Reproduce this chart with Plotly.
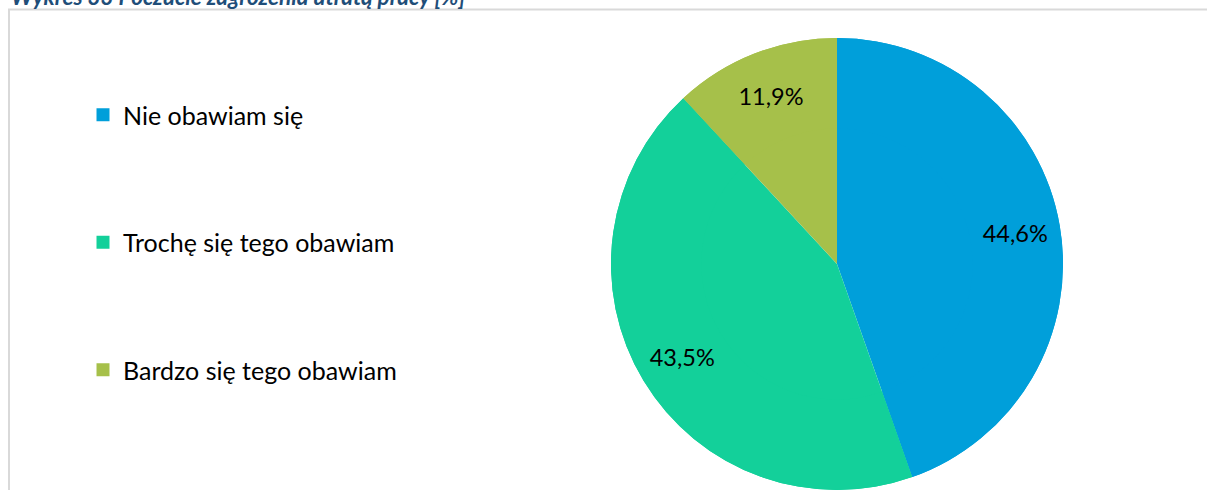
import plotly.graph_objects as go

labels = ["Nie obawiam się", "Trochę się tego obawiam", "Bardzo się tego obawiam"]
values = [44.6, 43.5, 11.9]
text_labels = ["44,6%", "43,5%", "11,9%"]
colors = ["#009FDA", "#13D09A", "#A6C04A"]
title_text = "Wykres 33 Poczucie zagrożenia utratą pracy [%]"

W, H = 1207, 490
FONT = "Lato"
pie_domain = dict(x=[610 / W, 1064 / W], y=[0, 1 - 38 / H])

fig = go.Figure()
# full pie (fills the centre)
fig.add_trace(go.Pie(
    labels=labels, values=values,
    textinfo="none", sort=False, direction="clockwise", rotation=0,
    marker=dict(colors=colors, line=dict(width=0)),
    domain=pie_domain, showlegend=False, hoverinfo="skip",
))
# same pie as a ring on top, so the inside labels sit out towards the rim
fig.add_trace(go.Pie(
    labels=labels, values=values, text=text_labels, hole=0.6,
    textinfo="text", textposition="inside", insidetextorientation="horizontal",
    sort=False, direction="clockwise", rotation=0,
    marker=dict(colors=colors, line=dict(width=0)),
    textfont=dict(family=FONT, size=23.5, color="#000000"),
    domain=pie_domain, showlegend=False,
))

for lab, col in zip(labels, colors):
    fig.add_trace(go.Scatter(
        x=[None], y=[None], mode="markers", name=lab, legendgroup=lab,
        marker=dict(symbol="square", size=13, color=col),
    ))

fig.update_layout(
    width=W, height=H,
    margin=dict(l=0, r=0, t=0, b=0),
    paper_bgcolor="white", plot_bgcolor="white",
    xaxis=dict(visible=False), yaxis=dict(visible=False),
    legend=dict(
        x=83 / W, xanchor="left", y=1 - 92 / H, yanchor="top",
        font=dict(family=FONT, size=25, color="#000000"),
        tracegroupgap=92, bgcolor="rgba(0,0,0,0)",
    ),
    shapes=[dict(
        type="rect", xref="paper", yref="paper",
        x0=9 / W, x1=1.02, y0=-0.02, y1=1 - 9.5 / H,
        line=dict(color="#D9D9D9", width=2), layer="below",
    )],
    annotations=[dict(
        text=title_text, xref="paper", yref="paper",
        x=10 / W, xanchor="left", y=1 - 11.5 / H, yanchor="bottom",
        showarrow=False, borderpad=0,
        font=dict(family=FONT, size=22.5, color="#1F4E79", style="italic", weight="bold"),
    )],
)

fig.write_html(
    "out.html",
    config={"displayModeBar": False},
    post_script="document.body.style.margin='0';",
)
